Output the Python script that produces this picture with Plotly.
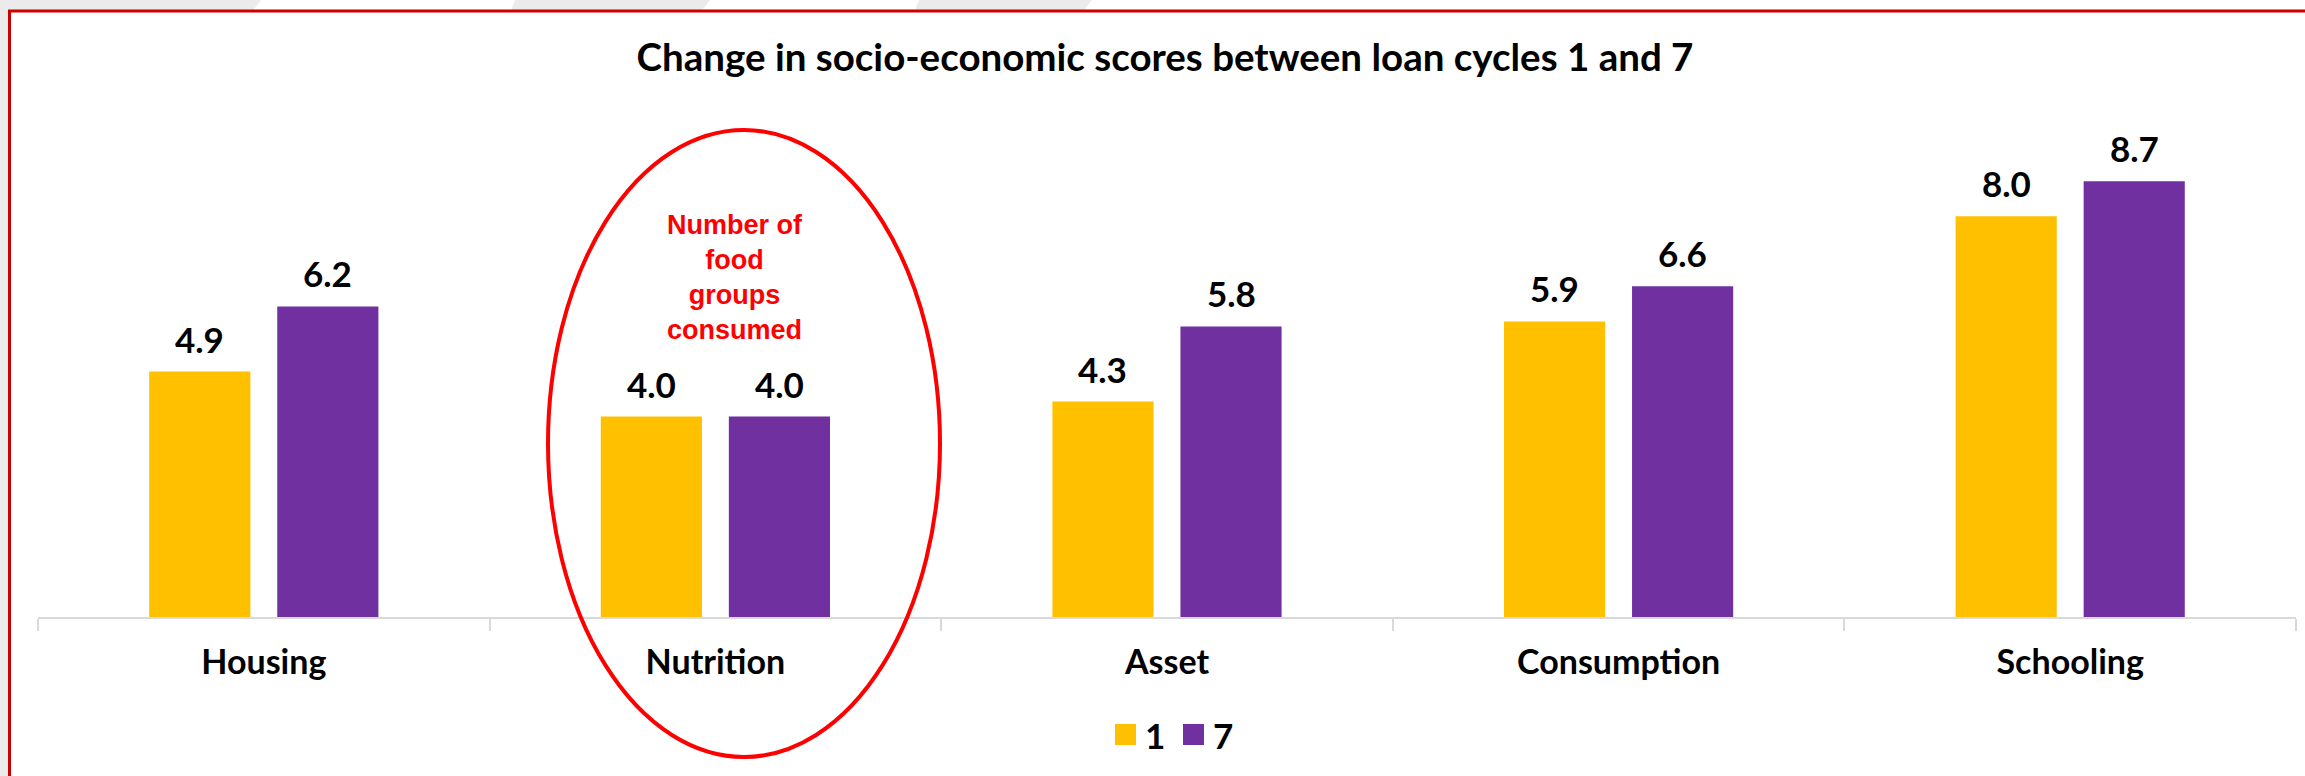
import plotly.graph_objects as go

# ---- data -------------------------------------------------------------
categories = ["Housing", "Nutrition", "Asset", "Consumption", "Schooling"]
cycle_names = ["1", "7"]
cycle1_scores = [4.9, 4.0, 4.3, 5.9, 8.0]
cycle7_scores = [6.2, 4.0, 5.8, 6.6, 8.7]
title_text = "Change in socio-economic scores between loan cycles 1 and 7"
note_text = "Number of<br>food<br>groups<br>consumed"

# ---- styling ----------------------------------------------------------
W, H = 2305, 776
M_L, M_R, M_T, M_B = 38, 9, 116, 159
Y_MAX = 10.0
BARGAP, BARGROUPGAP = 0.433, 0.21
COLORS = ["#FFC000", "#7030A0"]
FONT = "Lato"
AXIS_GRAY = "#D9D9D9"
BG_GRAY = "#EBEBEB"
BORDER_RED = "#CC0000"

plot_w = W - M_L - M_R
plot_h = H - M_T - M_B
cat_w = plot_w / len(categories)
# horizontal offset of each bar centre from its category centre (px)
slot_w = (1 - BARGAP) * cat_w / 2
bar_offsets = [-slot_w / 2, slot_w / 2]


def px_x(x):
    """page pixel x -> paper coordinate"""
    return (x - M_L) / plot_w


def px_y(y):
    """page pixel y -> paper coordinate"""
    return (H - M_B - y) / plot_h


fig = go.Figure()
for name, vals, color in zip(cycle_names, [cycle1_scores, cycle7_scores], COLORS):
    fig.add_trace(go.Bar(
        x=categories, y=vals, name=name,
        marker=dict(color=color, line=dict(width=0)),
        showlegend=False, hoverinfo="x+y",
    ))

annotations = []
# value labels above each bar
for offs, vals in zip(bar_offsets, [cycle1_scores, cycle7_scores]):
    for c, v in zip(categories, vals):
        annotations.append(dict(
            x=c, y=v, xref="x", yref="y", xshift=offs, yshift=33,
            text=f"{v:.1f}", showarrow=False, xanchor="center", yanchor="middle",
            font=dict(family=FONT, size=35, color="black", weight="bold"),
        ))

# red note inside the ellipse
annotations.append(dict(
    x=px_x(735), y=px_y(277), xref="paper", yref="paper",
    text=note_text, showarrow=False, xanchor="center", yanchor="middle",
    align="center",
    font=dict(family="Liberation Sans", size=27, color="#FF0000", weight="bold"),
))

# legend entries
legend_items = [(1115, cycle_names[0], COLORS[0]), (1183, cycle_names[1], COLORS[1])]
shapes = []
for x0, name, color in legend_items:
    shapes.append(dict(type="rect", xref="paper", yref="paper",
                       x0=px_x(x0), x1=px_x(x0 + 21), y0=px_y(745), y1=px_y(724),
                       fillcolor=color, line=dict(width=0)))
    annotations.append(dict(
        x=px_x(x0 + 28), y=px_y(735), xref="paper", yref="paper",
        text=name, showarrow=False, xanchor="left", yanchor="middle",
        font=dict(family=FONT, size=35, color="black", weight="bold"),
    ))

# slide background: grey frame strips with lighter diagonal streaks
shapes.append(dict(type="rect", xref="paper", yref="paper", layer="below",
                   x0=px_x(0), x1=px_x(9), y0=px_y(H), y1=px_y(0),
                   fillcolor=BG_GRAY, line=dict(width=0)))
for a, b in [(0, 257), (515, 706), (919, 1088)]:
    path = (f"M {px_x(a)},{px_y(0)} L {px_x(b + 4)},{px_y(0)} "
            f"L {px_x(b - 4)},{px_y(10.5)} L {px_x(a - 4 if a else 0)},{px_y(10.5)} Z")
    shapes.append(dict(type="path", xref="paper", yref="paper", layer="below",
                       path=path, fillcolor=BG_GRAY, line=dict(width=0)))
# red slide frame
shapes.append(dict(type="path", xref="paper", yref="paper",
                   path=f"M {px_x(9.5)},{px_y(H + 5)} L {px_x(9.5)},{px_y(11)} L {px_x(W + 5)},{px_y(11)}",
                   line=dict(color=BORDER_RED, width=3)))

# ellipse highlighting the nutrition pair
shapes.append(dict(type="circle", xref="paper", yref="paper",
                   x0=px_x(548), x1=px_x(940), y0=px_y(757), y1=px_y(130),
                   line=dict(color="#FF0000", width=4)))

fig.update_layout(
    width=W, height=H,
    margin=dict(l=M_L, r=M_R, t=M_T, b=M_B, pad=0),
    paper_bgcolor="white", plot_bgcolor="rgba(0,0,0,0)",
    barmode="group", bargap=BARGAP, bargroupgap=BARGROUPGAP,
    title=dict(text=title_text, x=1165 / W, xanchor="center",
               y=1 - 58 / H, yanchor="middle", xref="container", yref="container",
               font=dict(family=FONT, size=38.5, color="black", weight="bold")),
    xaxis=dict(
        type="category", range=[-0.5, len(categories) - 0.5],
        showline=True, linecolor=AXIS_GRAY, linewidth=1.5,
        ticks="outside", tickson="boundaries", ticklen=12, tickwidth=1.5,
        tickcolor=AXIS_GRAY, showgrid=False, zeroline=False,
        tickfont=dict(family=FONT, size=34, color="black", weight="bold"),
        ticklabelstandoff=14,
    ),
    yaxis=dict(range=[0, Y_MAX], visible=False, showgrid=False, zeroline=False),
    annotations=annotations,
    shapes=shapes,
    showlegend=False,
)

fig.write_html("out.html")
